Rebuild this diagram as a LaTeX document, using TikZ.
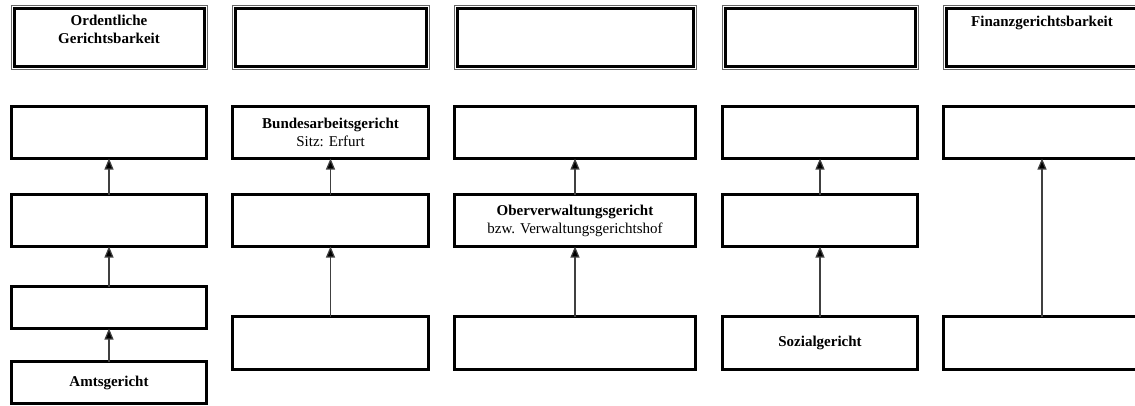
\documentclass[tikz,border=0pt]{standalone}
\usepackage{fontspec}
\setmainfont{Liberation Serif}
\usetikzlibrary{arrows.meta}

\begin{document}
\begin{tikzpicture}[x=1pt, y=-1pt, font=\fontsize{15}{18}\selectfont,
    court/.style={draw, line width=3pt, inner sep=0pt, outer sep=0pt, minimum height=52pt, align=center},
    branch/.style={court, minimum height=58pt},
    up/.style={draw=black!75, line width=1.2pt, -{Triangle[width=9pt,length=11pt]}},
  ]
  \useasboundingbox (0,0) rectangle (1135,405);

  % Gerichtsbarkeiten
  \node[branch, minimum width=190pt] (h1) at (109,37.5) {};
  \node[branch, minimum width=191pt] (h2) at (330.5,37.5) {};
  \node[branch, minimum width=236pt] (h3) at (575,37.5) {};
  \node[branch, minimum width=190pt] (h4) at (820,37.5) {};
  \node[branch, minimum width=192pt] (h5) at (1042,37.5) {};
  \foreach \h in {h1,h2,h3,h4,h5}
    \draw[line width=0.8pt, black!60] ([shift={(-3,-3)}]\h.north west) rectangle ([shift={(3,3)}]\h.south east);
  \node[anchor=north, align=center, font=\fontsize{15}{18}\selectfont\bfseries] (h1t) at (109,12) {Ordentliche\\Gerichtsbarkeit};
  \node[anchor=north, font=\fontsize{15}{18}\selectfont\bfseries] (h5t) at (1042,13) {Finanzgerichtsbarkeit};

  % ordentliche Gerichte
  \node[court, minimum width=195pt] (o1) at (109,132.5) {};
  \node[court, minimum width=195pt] (o2) at (109,220.5) {};
  \node[court, minimum width=195pt, minimum height=42pt] (o3) at (109,307.5) {};
  \node[court, minimum width=195pt, minimum height=42pt] (o4) at (109,382.5) {\textbf{Amtsgericht}};

  % Arbeitsgerichte
  \node[court, minimum width=196pt] (a1) at (330.5,132.5) {\textbf{Bundesarbeitsgericht}\\Sitz: Erfurt};
  \node[court, minimum width=196pt] (a2) at (330.5,220.5) {};
  \node[court, minimum width=196pt, minimum height=53pt] (a3) at (330.5,343) {};

  % Verwaltungsgerichte
  \node[court, minimum width=241pt] (v1) at (575,132.5) {};
  \node[court, minimum width=241pt] (v2) at (575,220.5) {\textbf{Oberverwaltungsgericht}\\bzw. Verwaltungsgerichtshof};
  \node[court, minimum width=241pt, minimum height=53pt] (v3) at (575,343) {};

  % Sozialgerichte
  \node[court, minimum width=195pt] (s1) at (820,132.5) {};
  \node[court, minimum width=195pt] (s2) at (820,220.5) {};
  \node[court, minimum width=195pt, minimum height=53pt] (s3) at (820,343) {\textbf{Sozialgericht}};

  % Finanzgerichte
  \node[court, minimum width=197pt] (f1) at (1042,132.5) {};
  \node[court, minimum width=197pt, minimum height=53pt] (f2) at (1042,343) {};

  \path[up]
    (o2) edge (o1)
    (o3) edge (o2)
    (o4) edge (o3)

    (a2) edge (a1)
    (a3) edge (a2)

    (v2) edge (v1)
    (v3) edge (v2)

    (s2) edge (s1)
    (s3) edge (s2)

    (f2) edge (f1)
  ;
\end{tikzpicture}
\end{document}
